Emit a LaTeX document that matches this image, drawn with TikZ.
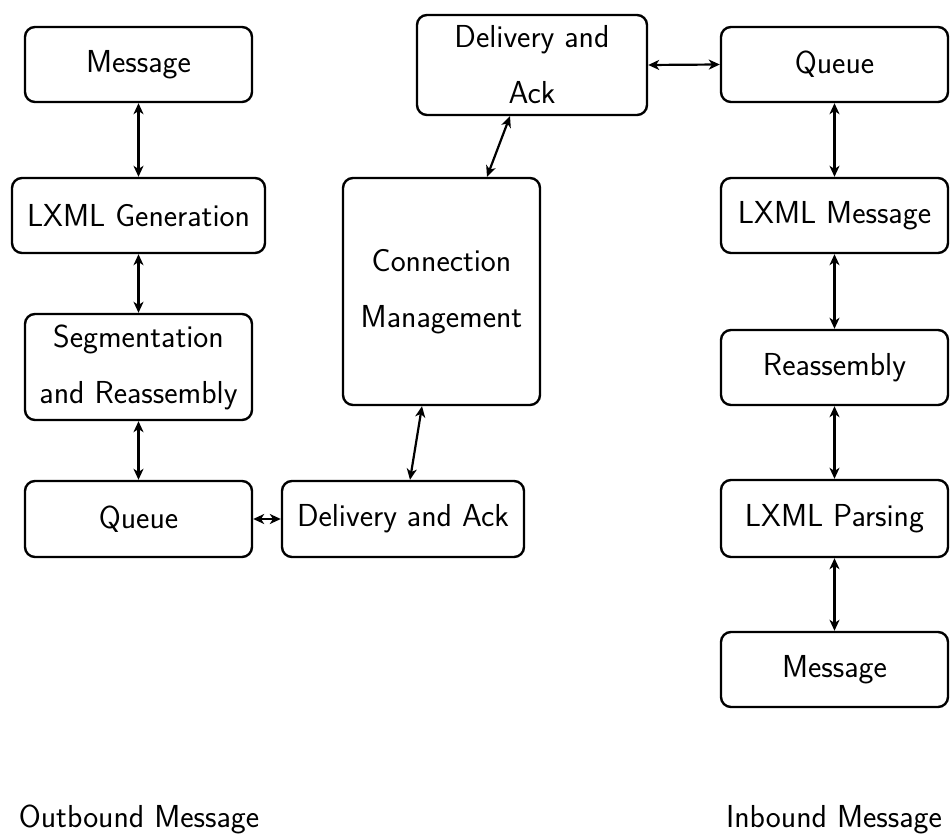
\documentclass[tikz,border=0pt]{standalone}
\usetikzlibrary{arrows.meta}
\begin{document}
\begin{tikzpicture}[x=0.5pt,y=-0.5pt,
  font=\fontsize{15.9pt}{28pt}\selectfont\sffamily,
  blk/.style={draw,line width=1.2pt,rounded corners=5pt,align=center,inner sep=0pt},
  link/.style={line width=1.1pt,{Stealth[length=5.5pt,width=5pt,inset=1.6pt]}-{Stealth[length=5.5pt,width=5pt,inset=1.6pt]}},
  caption/.style={anchor=base}]
\useasboundingbox (0,0) rectangle (950,839);

% outbound side
\node[blk,minimum width=113.5pt,minimum height=37.5pt] (msgL) at (138.5,64.5) {Message};
\node[blk,minimum width=126.5pt,minimum height=37.5pt] (gen)  at (138.5,215.5) {LXML Generation};
\node[blk,minimum width=113.5pt,minimum height=53pt]   (seg)  at (138.5,367) {Segmentation\\and Reassembly};
\node[blk,minimum width=113.5pt,minimum height=38pt]   (queL) at (138.5,519) {Queue};
\node[blk,minimum width=121pt,minimum height=38pt]     (delB) at (403,519) {Delivery and Ack};

% shared connection layer
\node[blk,minimum width=98.5pt,minimum height=113.5pt] (conn) at (441.5,291.5) {Connection\\Management};
\node[blk,minimum width=115pt,minimum height=50pt]     (delT) at (532,65) {Delivery and\\Ack};

% inbound side
\node[blk,minimum width=113.5pt,minimum height=37.5pt] (queR)  at (834.5,64.5) {Queue};
\node[blk,minimum width=113.5pt,minimum height=37.5pt] (lxmsg) at (834.5,215.5) {LXML Message};
\node[blk,minimum width=113.5pt,minimum height=37.5pt] (reas)  at (834.5,367.5) {Reassembly};
\node[blk,minimum width=113.5pt,minimum height=38.5pt] (pars)  at (834.5,518.5) {LXML Parsing};
\node[blk,minimum width=113.5pt,minimum height=37.5pt] (msgR)  at (834.5,669.5) {Message};

% captions
\node[caption] (outcap) at (139,828) {Outbound Message};
\node[caption] (incap)  at (834,828) {Inbound Message};

% connectors
\draw[link] (msgL.south) -- (gen.north);
\draw[link] (gen.south) -- (seg.north);
\draw[link] (seg.south) -- (queL.north);
\draw[link] (queL.east) -- (delB.west);
\draw[link] ([xshift=3.5pt]delB.north) -- ([xshift=-9.75pt]conn.south);
\draw[link] ([xshift=22.75pt]conn.north) -- ([xshift=-11pt]delT.south);
\draw[link] (delT.east) -- (queR.west);
\draw[link] (queR.south) -- (lxmsg.north);
\draw[link] (lxmsg.south) -- (reas.north);
\draw[link] (reas.south) -- (pars.north);
\draw[link] (pars.south) -- (msgR.north);
\end{tikzpicture}
\end{document}
